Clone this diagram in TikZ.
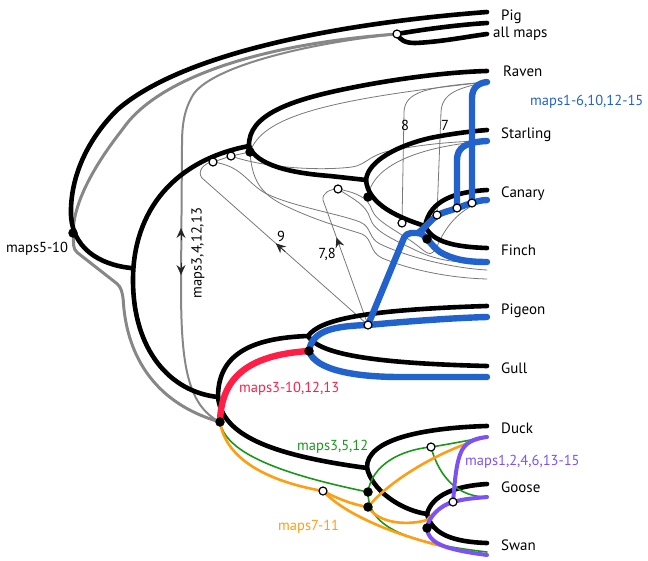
\documentclass[tikz,border=0pt]{standalone}
\usepackage{fontspec}
\setmainfont{PT Sans}
\usetikzlibrary{arrows.meta,calc}
\definecolor{cblue}{RGB}{34,98,204}
\definecolor{cred}{RGB}{255,30,70}
\definecolor{cgreen}{RGB}{24,152,24}
\definecolor{corange}{RGB}{255,158,18}
\definecolor{cpurple}{RGB}{125,82,245}
\definecolor{cgray}{RGB}{135,135,135}
\definecolor{cthin}{RGB}{120,120,120}
\begin{document}
\begin{tikzpicture}[x=1pt,y=-1pt,line cap=round,line join=round,
  blk/.style={line width=4.6pt,black},
  blu/.style={line width=6.4pt,cblue},
  redl/.style={line width=6.4pt,cred},
  gthick/.style={line width=3pt,cgray},
  gmid/.style={line width=2pt,cgray},
  gthin/.style={line width=0.8pt,cthin},
  grn/.style={line width=1.6pt,cgreen},
  org/.style={line width=2.6pt,corange},
  pur/.style={line width=4pt,cpurple},
  dot/.style={circle,fill=black,inner sep=0pt,minimum size=9.5pt},
  wc/.style={circle,draw=black,fill=white,line width=1.2pt,inner sep=0pt,minimum size=8pt},
  tip/.style={anchor=base west,inner sep=0pt,font=\fontsize{15}{17}\selectfont},
  mlab/.style={anchor=base west,inner sep=0pt,font=\fontsize{14.5}{16}\selectfont},
  num/.style={inner sep=0pt,font=\fontsize{14.5}{16}\selectfont},
  amark/.style={draw=black!85,line width=0.8pt,-{Stealth[length=10pt,width=9pt,inset=3.5pt]}}]
\useasboundingbox (0,0) rectangle (648,560);
% ---------- coordinates ----------
\coordinate (tPig) at (487,12);
\coordinate (tAllA) at (487,23);
\coordinate (tAllB) at (487,34);
\coordinate (tRaven) at (487,71);
\coordinate (tRavenB) at (487,82);
\coordinate (tStar) at (487,130);
\coordinate (tStarB) at (487,141);
\coordinate (tCan) at (487,190);
\coordinate (tCanB) at (487,200);
\coordinate (tFin) at (487,248);
\coordinate (tFinB) at (487,262);
\coordinate (tFinG1) at (487,270);
\coordinate (tFinG2) at (487,279);
\coordinate (tPige) at (487,306);
\coordinate (tPigeB) at (487,317);
\coordinate (tGull) at (487,366);
\coordinate (tGullB) at (487,377);
\coordinate (tDuck) at (487,426);
\coordinate (tDuckC) at (487,437);
\coordinate (tGoose) at (487,484);
\coordinate (tGooseC) at (487,497);
\coordinate (tSwan) at (487,543);
\coordinate (tSwanC) at (487,555);
\coordinate (root) at (131,268);
\coordinate (nA) at (249,146);
\coordinate (nB) at (366,180);
\coordinate (nC) at (425,226);
\coordinate (nPG) at (308,336);
\coordinate (nM) at (218,397);
\coordinate (nD) at (367,468);
\coordinate (nE) at (427,514);
\coordinate (dA) at (250,152);
\coordinate (dB) at (368,197);
\coordinate (dC) at (427,239);
\coordinate (dPG) at (309,351);
\coordinate (dM) at (220,422);
\coordinate (dRoot) at (73,233);
\coordinate (dD1) at (368,492);
\coordinate (dD2) at (368,507);
\coordinate (dE) at (427,528);
\coordinate (cAll) at (397,34);
\coordinate (c1) at (213,162);
\coordinate (c2) at (231,156);
\coordinate (c3) at (338,189);
\coordinate (c4) at (402,223);
\coordinate (c5) at (437,215);
\coordinate (c6) at (457,208);
\coordinate (c7) at (472,203);
\coordinate (cP) at (368,325);
\coordinate (cD1) at (323,491);
\coordinate (cD2) at (431,447);
\coordinate (cD3) at (453,502);
\coordinate (bk) at (418,233);
% ---------- thin gray gene-tree lines ----------
\draw[gthin] (c1) -- (c2) -- (dA);
\draw[gthin] (dA) .. controls (262,118) and (320,100) .. (tRavenB);
\draw[gthin] (c4) -- (404,112) .. controls (405,92) and (425,87) .. (tRavenB);
\draw[gthin] (c5) -- (441,112) .. controls (442,93) and (458,88) .. (tRavenB);
\draw[gthin] (c2) .. controls (265,168) and (320,171) .. (352,167) .. controls (365,165) and (368,157) .. (385,152) .. controls (420,144) and (460,141) .. (tStarB);
\draw[gthin] (dB) .. controls (372,165) and (420,146) .. (tStarB);
\draw[gthin] (cP) -- (202,178) .. controls (197,172) and (203,163) .. (c1);
\draw[gthin] (cP) -- (323,200) .. controls (322,193) and (330,189) .. (c3);
\draw[gthin] (c1) .. controls (242,166) and (246,182) .. (265,193) .. controls (290,206) and (340,214) .. (360,222) .. controls (372,227) and (368,238) .. (380,244) .. controls (405,256) and (450,268) .. (tFinG1);
\draw[gthin] (dA) .. controls (252,185) and (265,197) .. (290,208) .. controls (320,222) and (350,230) .. (362,234) .. controls (373,239) and (369,252) .. (382,258) .. controls (410,270) and (450,278) .. (tFinG2);
\draw[gthin] (c3) .. controls (358,193) and (368,198) .. (372,210) .. controls (376,222) and (400,232) .. (418,246) .. controls (430,256) and (432,258) .. (440,240) .. controls (450,220) and (465,206) .. (tCanB);
\draw[gthin] (c3) .. controls (355,200) and (366,205) .. (370,218) .. controls (374,232) and (395,240) .. (415,250) .. controls (440,262) and (460,263) .. (tFinB);
% arrows on thin gray
\draw[amark] ($(cP)!0.50!(202,178)$) -- ($(cP)!0.555!(202,178)$);
\draw[amark] ($(cP)!0.64!(323,200)$) -- ($(cP)!0.70!(323,200)$);
% ---------- gray map lines ----------
\draw[gthick,rounded corners=4pt] (cAll) .. controls (260,44) and (160,78) .. (122,130) .. controls (95,165) and (75,200) .. (dRoot) -- (74,250) -- (120,286) -- (123,296) .. controls (126,350) and (150,402) .. (dM);
\draw[gmid] (cAll) .. controls (300,44) and (210,68) .. (193,95) .. controls (184,110) and (182,125) .. (182,145) -- (181,285) .. controls (181,360) and (186,405) .. (dM);
\draw[amark] (181,240) -- (181,228);
\draw[amark] (181,263) -- (181,275);
% ---------- black species tree ----------
\draw[blk] (tPig) .. controls (330,24) and (180,55) .. (117,110) .. controls (85,142) and (70,180) .. (71,215) .. controls (73,255) and (110,266) .. (root);
\draw[blk] (cAll) .. controls (420,30) and (455,25) .. (tAllA);
\draw[blk] (cAll) .. controls (400,40) and (405,43) .. (415,43) .. controls (440,42) and (465,37) .. (tAllB);
\draw[blk] (nA) .. controls (175,160) and (133,210) .. (133,280) .. controls (133,350) and (170,392) .. (nM);
\draw[blk] (nA) .. controls (248,115) and (290,100) .. (350,88) .. controls (400,78) and (450,72) .. (tRaven);
\draw[blk] (nA) .. controls (256,165) and (290,173) .. (330,176) -- (nB);
\draw[blk] (nB) .. controls (368,160) and (400,145) .. (430,138) .. controls (455,133) and (475,131) .. (tStar);
\draw[blk] (nB) .. controls (368,205) and (400,218) .. (nC);
\draw[blk] (nC) .. controls (430,200) and (455,192) .. (tCan);
\draw[blk] (nC) .. controls (432,242) and (455,247) .. (tFin);
\draw[blk] (nM) .. controls (218,355) and (250,338) .. (nPG);
\draw[blk] (nPG) .. controls (320,320) and (360,310) .. (tPige);
\draw[blk] (nPG) .. controls (318,352) and (360,363) .. (tGull);
\draw[blk] (nM) .. controls (222,435) and (270,455) .. (nD);
\draw[blk] (nD) .. controls (366,440) and (420,428) .. (tDuck);
\draw[blk] (nD) .. controls (372,490) and (400,510) .. (nE);
\draw[blk] (nE) .. controls (432,495) and (455,486) .. (tGoose);
\draw[blk] (nE) .. controls (432,535) and (455,542) .. (tSwan);
% ---------- blue ----------
\draw[blu,rounded corners=5pt] (cP) -- (406,233) -- (bk);
\draw[blu] (bk) .. controls (425,233) and (430,245) .. (440,252) .. controls (452,259) and (465,262) .. (tFinB);
\draw[blu] (bk) .. controls (428,226) and (432,216) .. (445,212) .. controls (460,208) and (475,200) .. (tCanB);
\draw[blu] (c6) -- (457,160) .. controls (457,148) and (465,142) .. (tStarB);
\draw[blu] (c7) -- (472,98) .. controls (472,88) and (478,83) .. (tRavenB);
\draw[blu] (dPG) .. controls (312,330) and (335,326) .. (cP) .. controls (400,322) and (450,318) .. (tPigeB);
\draw[blu] (dPG) .. controls (315,370) and (355,377) .. (400,377) -- (tGullB);
% ---------- red ----------
\draw[redl] (dM) .. controls (221,380) and (245,355) .. (dPG);
% ---------- duck clade map lines ----------
\draw[grn] (dM) .. controls (225,450) and (270,472) .. (dD1);
\draw[grn] (dD1) .. controls (372,465) and (400,450) .. (cD2);
\draw[grn] (cD2) .. controls (450,444) and (470,440) .. (tDuckC);
\draw[grn] (cD2) .. controls (440,480) and (460,497) .. (tGooseC);
\draw[grn] (dD1) .. controls (368,525) and (400,542) .. (487,552);
\draw[org] (dM) .. controls (225,455) and (260,480) .. (cD1);
\draw[org] (cD1) .. controls (340,500) and (355,505) .. (dD2);
\draw[org] (dD2) .. controls (390,480) and (440,450) .. (tDuckC);
\draw[org] (dD2) .. controls (380,525) and (410,525) .. (427,520) .. controls (440,505) and (460,498) .. (tGooseC);
\draw[org] (cD1) .. controls (350,520) and (420,545) .. (tSwanC);
\draw[pur] (dE) .. controls (428,545) and (450,550) .. (tSwanC);
\draw[pur] (dE) .. controls (428,518) and (440,505) .. (cD3) .. controls (465,499) .. (tGooseC);
\draw[pur] (cD3) .. controls (455,480) and (456,462) .. (462,450) .. controls (468,440) and (478,438) .. (tDuckC);
% ---------- dots and open circles ----------
\foreach \p in {dA,dB,dC,dPG,dM,dRoot,dD1,dD2,dE} \node[dot] (\p-n) at (\p) {};
\foreach \p in {cAll,c1,c2,c3,c4,c5,c6,c7,cP,cD1,cD2,cD3} \node[wc] (\p-n) at (\p) {};
% ---------- labels ----------
\node[tip] (lPig) at (501,20) {Pig};
\node[tip] (lAll) at (493,37) {all maps};
\node[tip] (lRaven) at (503,76) {Raven};
\node[tip] (lStar) at (501,138) {Starling};
\node[tip] (lCan) at (501,197) {Canary};
\node[tip] (lFin) at (501,255) {Finch};
\node[tip] (lPige) at (501,314) {Pigeon};
\node[tip] (lGull) at (501,373) {Gull};
\node[tip] (lDuck) at (501,433) {Duck};
\node[tip] (lGoose) at (501,492) {Goose};
\node[tip] (lSwan) at (501,550) {Swan};
\node[mlab,text=cblue] (mB) at (530,105) {maps1-6,10,12-15};
\node[mlab,text=cred] (mR) at (239,392) {maps3-10,12,13};
\node[mlab,text=cgreen] (mG) at (297,450) {maps3,5,12};
\node[mlab,text=cpurple] (mP) at (465,465) {maps1,2,4,6,13-15};
\node[mlab,text=corange] (mO) at (278,530) {maps7-11};
\node[mlab] (mK) at (6,252) {maps5-10};
\node[num,rotate=90] (mV) at (198,253) {maps3,4,12,13};
\node[num] (n8) at (405,125) {8};
\node[num] (n7) at (445,125) {7};
\node[num] (n9) at (281,236) {9};
\node[num] (n78) at (327,254) {7,8};
\end{tikzpicture}
\end{document}
